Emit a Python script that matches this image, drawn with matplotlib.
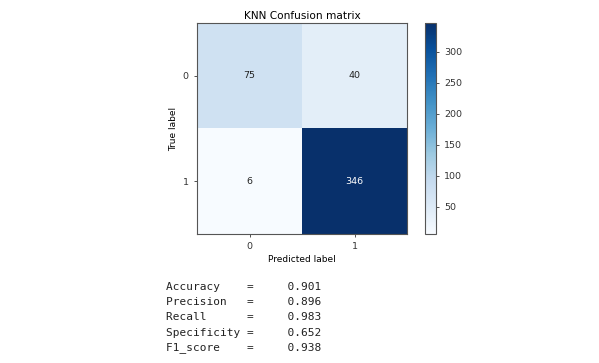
import matplotlib
matplotlib.use("Agg")
import matplotlib.pyplot as plt
import numpy as np

classes = ["0", "1"]
cm = np.array([[75, 40],
               [6, 346]])
cbar_ticks = [50, 100, 150, 200, 250, 300]
metric_names = ["Accuracy", "Precision", "Recall", "Specificity", "F1_score"]
metric_values = [0.901, 0.896, 0.983, 0.652, 0.938]

W, H = 599, 363
fig = plt.figure(figsize=(W / 100, H / 100), dpi=100)

ax = fig.add_axes([197 / W, 1 - 234 / H, 210 / W, 211 / H])
cax = fig.add_axes([425 / W, 1 - 234 / H, 11 / W, 211 / H])

im = ax.imshow(cm, interpolation="nearest", cmap="Blues", aspect="auto",
               vmin=cm.min(), vmax=cm.max())
cb = fig.colorbar(im, cax=cax)
cb.set_ticks(cbar_ticks)
cb.ax.tick_params(labelsize=6.8, length=2.5, width=0.6, colors="#333333")
cb.outline.set_linewidth(0.8)
cb.outline.set_edgecolor("#555555")

ax.set_title("KNN Confusion matrix", fontsize=7.6, pad=3)
ax.set_xticks(range(len(classes)))
ax.set_xticklabels(classes)
ax.set_yticks(range(len(classes)))
ax.set_yticklabels(classes)
ax.tick_params(labelsize=6.8, length=2.5, width=0.6, colors="#333333")
ax.set_xlabel("Predicted label", fontsize=6.5, labelpad=3)
ax.set_ylabel("True label", fontsize=6.5, labelpad=3)
for s in ax.spines.values():
    s.set_linewidth(0.8)
    s.set_edgecolor("#555555")

thresh = cm.max() / 2.0
for i in range(cm.shape[0]):
    for j in range(cm.shape[1]):
        ax.text(j, i, format(cm[i, j], "d"), ha="center", va="center",
                fontsize=6.8,
                color="white" if cm[i, j] > thresh else "#222222")

y0 = 287
for k, (name, val) in enumerate(zip(metric_names, metric_values)):
    line = f"{name:<12}={'':5}{val:.3f}"
    fig.text(166 / W, 1 - (y0 + k * 15.2) / H, line, family="DejaVu Sans Mono",
             fontsize=8, va="center", ha="left", color="#222222")

fig.savefig("out.png", dpi=100)
